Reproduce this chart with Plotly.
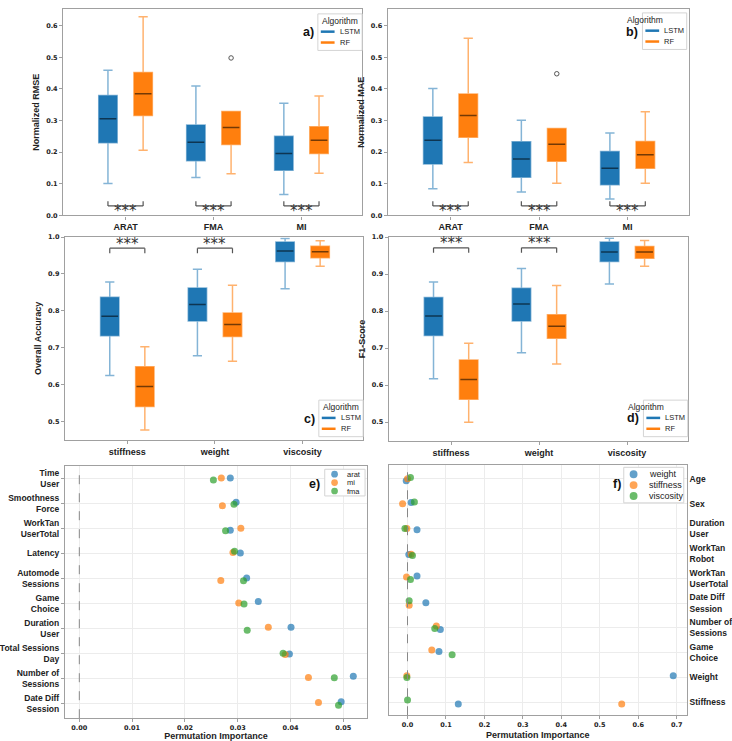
import plotly.graph_objects as go

W, H = 732, 741

# ---------------- data ----------------
reg_cats = ["ARAT", "FMA", "MI"]
cls_cats = ["stiffness", "weight", "viscosity"]

# a) Normalized RMSE  (whisker low, q1, median, q3, whisker high)
rmse_lstm_low = [0.101, 0.120, 0.066]
rmse_lstm_q1 = [0.230, 0.173, 0.143]
rmse_lstm_med = [0.306, 0.231, 0.196]
rmse_lstm_q3 = [0.379, 0.286, 0.250]
rmse_lstm_high = [0.459, 0.409, 0.355]
rmse_rf_low = [0.206, 0.132, 0.133]
rmse_rf_q1 = [0.316, 0.224, 0.196]
rmse_rf_med = [0.385, 0.278, 0.238]
rmse_rf_q3 = [0.452, 0.329, 0.280]
rmse_rf_high = [0.628, 0.329, 0.378]
rmse_rf_outlier_idx = [1]
rmse_rf_outlier_val = [0.498]

# b) Normalized MAE
mae_lstm_low = [0.084, 0.074, 0.052]
mae_lstm_q1 = [0.1625, 0.121, 0.097]
mae_lstm_med = [0.238, 0.178, 0.149]
mae_lstm_q3 = [0.311, 0.233, 0.202]
mae_lstm_high = [0.401, 0.301, 0.261]
mae_rf_low = [0.167, 0.102, 0.102]
mae_rf_q1 = [0.247, 0.171, 0.149]
mae_rf_med = [0.316, 0.225, 0.192]
mae_rf_q3 = [0.384, 0.275, 0.234]
mae_rf_high = [0.560, 0.275, 0.328]
mae_rf_outlier_idx = [1]
mae_rf_outlier_val = [0.448]

# c) Overall Accuracy
acc_lstm_low = [0.624, 0.678, 0.860]
acc_lstm_q1 = [0.732, 0.772, 0.934]
acc_lstm_med = [0.785, 0.817, 0.962]
acc_lstm_q3 = [0.837, 0.862, 0.987]
acc_lstm_high = [0.878, 0.913, 0.996]
acc_rf_low = [0.476, 0.663, 0.921]
acc_rf_q1 = [0.540, 0.730, 0.944]
acc_rf_med = [0.594, 0.763, 0.960]
acc_rf_q3 = [0.648, 0.794, 0.975]
acc_rf_high = [0.702, 0.869, 0.990]

# d) F1-Score
f1_lstm_low = [0.617, 0.6875, 0.873]
f1_lstm_q1 = [0.734, 0.773, 0.934]
f1_lstm_med = [0.787, 0.819, 0.960]
f1_lstm_q3 = [0.837, 0.862, 0.987]
f1_lstm_high = [0.879, 0.915, 0.997]
f1_rf_low = [0.500, 0.657, 0.921]
f1_rf_q1 = [0.562, 0.727, 0.943]
f1_rf_med = [0.615, 0.759, 0.960]
f1_rf_q3 = [0.668, 0.790, 0.975]
f1_rf_high = [0.713, 0.869, 0.991]

# e) permutation importance (regression)
e_features = ["Time\nUser", "Smoothness\nForce", "WorkTan\nUserTotal", "Latency",
              "Automode\nSessions", "Game\nChoice", "Duration\nUser",
              "Total Sessions\nDay", "Number of\nSessions", "Date Diff\nSession"]
e_arat = [0.0286, 0.0297, 0.0286, 0.0305, 0.0317, 0.0339, 0.0401, 0.0398, 0.0519, 0.0496]
e_mi = [0.0269, 0.0271, 0.0306, 0.0291, 0.0268, 0.0302, 0.0358, 0.0390, 0.0434, 0.0453]
e_fma = [0.0254, 0.0293, 0.0277, 0.0294, 0.0311, 0.0312, 0.0318, 0.0386, 0.0483, 0.0491]
e_arat_jit = [0.0, -0.04, 0.08, -0.01, -0.01, -0.07, -0.04, 0.03, -0.09, -0.07]
e_mi_jit = [0.0, 0.10, 0.0, -0.03, 0.09, -0.01, -0.04, 0.05, -0.04, -0.04]
e_fma_jit = [0.08, 0.04, 0.10, -0.08, 0.10, 0.03, 0.08, 0.0, -0.03, 0.07]

# f) permutation importance (classification)
f_features = ["Age", "Sex", "Duration\nUser", "WorkTan\nRobot", "WorkTan\nUserTotal",
              "Date Diff\nSession", "Number of\nSessions", "Game\nChoice", "Weight", "Stiffness"]
f_weight = [-0.0034, 0.0094, 0.0247, 0.0034, 0.0247, 0.0477, 0.0853, 0.0818, 0.691, 0.132]
f_stiff = [0.000, -0.0128, -0.0017, 0.0094, -0.0026, 0.0043, 0.075, 0.0631, -0.0017, 0.557]
f_visc = [0.0077, 0.0179, -0.0068, 0.0128, 0.0077, 0.0043, 0.0708, 0.116, -0.0017, 0.0]
f_weight_jit = [0.08, -0.05, 0.05, 0.05, -0.09, -0.01, 0.07, -0.05, -0.07, 0.07]
f_stiff_jit = [0.0, 0.0, 0.0, 0.04, -0.05, 0.09, -0.07, -0.11, -0.07, 0.07]
f_visc_jit = [-0.05, -0.07, 0.0, 0.09, 0.05, -0.09, 0.03, 0.08, 0.0, -0.09]

# ---------------- style ----------------
BLUE, ORANGE, GREEN = "#1f77b4", "#ff7f0e", "#2ca02c"
BLUE_L, ORANGE_L = "rgba(31,119,180,0.55)", "rgba(255,127,14,0.6)"
FRAME = "#a0a0a0"
LBL = "Liberation Sans"
NUM = "DejaVu Sans"
TXT = "#222222"
OFF, BW = 0.2, 0.21


def X(p):
    return p / W


def Y(p):
    return 1 - p / H


fig = go.Figure()
shapes = []
annotations = []


def box_panel(ax, stats_lstm, stats_rf, outl=None):
    xa, ya = "x" + ax, "y" + ax
    for stats, col, lcol, sgn in [(stats_lstm, BLUE, BLUE_L, -1), (stats_rf, ORANGE, ORANGE_L, 1)]:
        low, q1, med, q3, high = stats
        xs = [i + sgn * OFF for i in range(len(med))]
        fig.add_trace(go.Box(x=xs, q1=q1, median=med, q3=q3, lowerfence=low, upperfence=high,
                             width=BW, whiskerwidth=0.5, fillcolor=col,
                             line=dict(color=lcol, width=1.5), boxpoints=False,
                             showlegend=False, hoverinfo="skip", xaxis=xa, yaxis=ya))
        mx, my = [], []
        for xc, m in zip(xs, med):
            mx += [xc - BW / 2 + 0.01, xc + BW / 2 - 0.01, None]
            my += [m, m, None]
        fig.add_trace(go.Scatter(x=mx, y=my, mode="lines", line=dict(color="rgba(0,0,0,0.55)", width=1.5),
                                 showlegend=False, hoverinfo="skip", xaxis=xa, yaxis=ya))
    if outl:
        idx, val = outl
        fig.add_trace(go.Scatter(x=[i + OFF for i in idx], y=val, mode="markers",
                                 marker=dict(symbol="circle-open", size=4.5, color="#555", line=dict(width=1)),
                                 showlegend=False, hoverinfo="skip", xaxis=xa, yaxis=ya))


box_panel("", [rmse_lstm_low, rmse_lstm_q1, rmse_lstm_med, rmse_lstm_q3, rmse_lstm_high],
          [rmse_rf_low, rmse_rf_q1, rmse_rf_med, rmse_rf_q3, rmse_rf_high],
          (rmse_rf_outlier_idx, rmse_rf_outlier_val))
box_panel("2", [mae_lstm_low, mae_lstm_q1, mae_lstm_med, mae_lstm_q3, mae_lstm_high],
          [mae_rf_low, mae_rf_q1, mae_rf_med, mae_rf_q3, mae_rf_high],
          (mae_rf_outlier_idx, mae_rf_outlier_val))
box_panel("3", [acc_lstm_low, acc_lstm_q1, acc_lstm_med, acc_lstm_q3, acc_lstm_high],
          [acc_rf_low, acc_rf_q1, acc_rf_med, acc_rf_q3, acc_rf_high])
box_panel("4", [f1_lstm_low, f1_lstm_q1, f1_lstm_med, f1_lstm_q3, f1_lstm_high],
          [f1_rf_low, f1_rf_q1, f1_rf_med, f1_rf_q3, f1_rf_high])

# significance brackets
def bracket(ax, i, yline, ytick, ystar):
    xa, ya = "x" + ax, "y" + ax
    x0, x1 = i - OFF, i + OFF
    for (a, b, c, d) in [(x0, yline, x1, yline), (x0, yline, x0, ytick), (x1, yline, x1, ytick)]:
        shapes.append(dict(type="line", xref=xa, yref=ya, x0=a, y0=b, x1=c, y1=d,
                           line=dict(color="#555", width=1.2)))
    annotations.append(dict(x=i, y=ystar, xref=xa, yref=ya, text="***", showarrow=False,
                            font=dict(family=NUM, size=15, color="#333"), yanchor="middle"))


for i in range(3):
    bracket("", i, 0.030, 0.045, 0.013)
    bracket("2", i, 0.030, 0.045, 0.013)
for i in range(2):
    bracket("3", i, 0.970, 0.956, 0.982)
    bracket("4", i, 0.971, 0.958, 0.983)

# strip panels
def strip(ax, vals, jits, name, col):
    fig.add_trace(go.Scatter(x=vals, y=[k + j for k, j in enumerate(jits)], mode="markers", name=name,
                             marker=dict(color=col, size=7, opacity=0.7, line=dict(width=0)),
                             showlegend=False, xaxis="x" + ax, yaxis="y" + ax))


strip("5", e_arat, e_arat_jit, "arat", BLUE)
strip("5", e_mi, e_mi_jit, "mi", ORANGE)
strip("5", e_fma, e_fma_jit, "fma", GREEN)
strip("6", f_weight, f_weight_jit, "weight", BLUE)
strip("6", f_stiff, f_stiff_jit, "stiffness", ORANGE)
strip("6", f_visc, f_visc_jit, "viscosity", GREEN)

for ax in ["5", "6"]:
    shapes.append(dict(type="line", xref="x" + ax, yref="y" + ax + " domain", x0=0, x1=0, y0=0, y1=1,
                       line=dict(color="#888", width=1, dash="dash")))

# manual legends
def box_legend(x0, y0):
    shapes.append(dict(type="rect", xref="paper", yref="paper", x0=X(x0), x1=X(x0 + 45), y0=Y(y0 + 37), y1=Y(y0),
                       fillcolor="white", line=dict(color="#d4d4d4", width=1), layer="above"))
    annotations.append(dict(x=X(x0 + 22.5), y=Y(y0 + 7), xref="paper", yref="paper", text="Algorithm",
                            showarrow=False, font=dict(family=LBL, size=8.5, color=TXT), yanchor="middle"))
    for k, (nm, c) in enumerate([("LSTM", BLUE), ("RF", ORANGE)]):
        yy = y0 + 18 + 11 * k
        shapes.append(dict(type="line", xref="paper", yref="paper", x0=X(x0 + 3), x1=X(x0 + 17), y0=Y(yy), y1=Y(yy),
                           line=dict(color=c, width=2.5), layer="above"))
        annotations.append(dict(x=X(x0 + 20), y=Y(yy), xref="paper", yref="paper", text=nm, showarrow=False,
                                xanchor="left", yanchor="middle", font=dict(family=LBL, size=7.5, color=TXT)))


def pt_legend(x0, y0, w, h, names, cols, ry, dy, mx, r, tx, fs):
    shapes.append(dict(type="rect", xref="paper", yref="paper", x0=X(x0), x1=X(x0 + w), y0=Y(y0 + h), y1=Y(y0),
                       fillcolor="white", line=dict(color="#d4d4d4", width=1), layer="above"))
    for k, (nm, c) in enumerate(zip(names, cols)):
        yy = ry + dy * k
        shapes.append(dict(type="circle", xref="paper", yref="paper", x0=X(mx - r), x1=X(mx + r),
                           y0=Y(yy + r), y1=Y(yy - r), fillcolor=c, opacity=0.7, line=dict(width=0), layer="above"))
        annotations.append(dict(x=X(tx), y=Y(yy), xref="paper", yref="paper", text=nm, showarrow=False,
                                xanchor="left", yanchor="middle", font=dict(family=LBL, size=fs, color=TXT)))


box_legend(314, 10)
box_legend(644, 9)
box_legend(315, 401)
box_legend(645, 401)
pt_legend(321, 471, 41, 27, ["arat", "mi", "fma"], [BLUE, ORANGE, GREEN], 476, 8.5, 331, 3.4, 342, 7.5)
pt_legend(625, 469, 61, 36, ["weight", "stiffness", "viscosity"], [BLUE, ORANGE, GREEN], 476, 11, 635, 4, 649, 9)

for lab, xr, yc in [("a)", 312, 28), ("b)", 642, 28), ("c)", 313, 420), ("d)", 643, 419), ("e)", 318, 486), ("f)", 624, 486)]:
    annotations.append(dict(x=X(xr), y=Y(yc), xref="paper", yref="paper", text="<b>" + lab + "</b>",
                            showarrow=False, xanchor="right", yanchor="middle",
                            font=dict(family=LBL, size=12.5, color="#111")))

# ---------------- axes ----------------
frame = dict(showline=True, mirror=True, linecolor=FRAME, linewidth=1.3, zeroline=False)
numfont = dict(family=NUM, size=6.5, color=TXT, weight="bold")
lblfont = dict(family=LBL, size=9, color=TXT, weight="bold")


def cat_x(dom, cats):
    return dict(domain=dom, range=[-0.71, 2.69], tickvals=[0, 1, 2], ticktext=cats, showgrid=False,
                ticks="outside", ticklen=3, tickcolor=FRAME, tickfont=lblfont, **frame)


def val_y(dom, rng, title):
    return dict(domain=dom, range=rng, dtick=0.1, tickformat=".1f", showgrid=False, ticks="outside",
                ticklen=3, tickcolor=FRAME, tickfont=numfont,
                title=dict(text=title, font=lblfont, standoff=4), **frame)


layout = dict(
    width=W, height=H, margin=dict(l=0, r=0, t=0, b=0),
    paper_bgcolor="white", plot_bgcolor="white", showlegend=False,
    xaxis=cat_x([X(55), X(359)], reg_cats), yaxis=val_y([Y(214), Y(5)], [0, 0.653], "Normalized RMSE"),
    xaxis2=cat_x([X(385), X(691)], reg_cats), yaxis2=val_y([Y(214), Y(5)], [0, 0.653], "Normalized MAE"),
    xaxis3=cat_x([X(57), X(360)], cls_cats), yaxis3=val_y([Y(441), Y(236)], [0.45, 1.0], "Overall Accuracy"),
    xaxis4=cat_x([X(386), X(690)], cls_cats), yaxis4=val_y([Y(442), Y(236)], [0.45, 1.0], "F1-Score"),
    xaxis5=dict(domain=[X(57), X(364)], range=[-0.0027, 0.0545], dtick=0.01, tickformat=".2f",
                showgrid=True, gridcolor="#ececec", ticks="outside", ticklen=3, tickcolor=FRAME, tickfont=numfont,
                title=dict(text="Permutation Importance", font=lblfont, standoff=3), **frame),
    yaxis5=dict(domain=[Y(723), Y(468)], range=[9.59, -0.47], tickvals=list(range(10)),
                ticktext=[s.replace("\n", "<br>") for s in e_features], showgrid=True, gridcolor="#ececec",
                ticks="outside", ticklen=3, tickcolor=FRAME, tickfont=dict(family=LBL, size=8.5, color=TXT, weight="bold"),
                **frame),
    xaxis6=dict(domain=[X(386), X(689)], range=[-0.049, 0.726], dtick=0.1, tickformat=".1f",
                showgrid=True, gridcolor="#ececec", ticks="outside", ticklen=3, tickcolor=FRAME, tickfont=numfont,
                title=dict(text="Permutation Importance", font=lblfont, standoff=3), **frame),
    yaxis6=dict(domain=[Y(720), Y(467)], range=[9.52, -0.545], tickvals=list(range(10)), side="right",
                ticktext=[s.replace("\n", "<br>") for s in f_features], showgrid=True, gridcolor="#ececec",
                ticks="", tickfont=dict(family=LBL, size=8.5, color=TXT, weight="bold"), **frame),
    shapes=shapes, annotations=annotations,
)
layout["xaxis2"]["anchor"] = "y2"
layout["yaxis2"]["anchor"] = "x2"
layout["xaxis3"]["anchor"] = "y3"
layout["yaxis3"]["anchor"] = "x3"
layout["xaxis4"]["anchor"] = "y4"
layout["yaxis4"]["anchor"] = "x4"
layout["xaxis5"]["anchor"] = "y5"
layout["yaxis5"]["anchor"] = "x5"
layout["xaxis6"]["anchor"] = "y6"
layout["yaxis6"]["anchor"] = "x6"
layout["xaxis"]["anchor"] = "y"
layout["yaxis"]["anchor"] = "x"

fig.update_layout(**layout)
fig.write_html("out.html")
